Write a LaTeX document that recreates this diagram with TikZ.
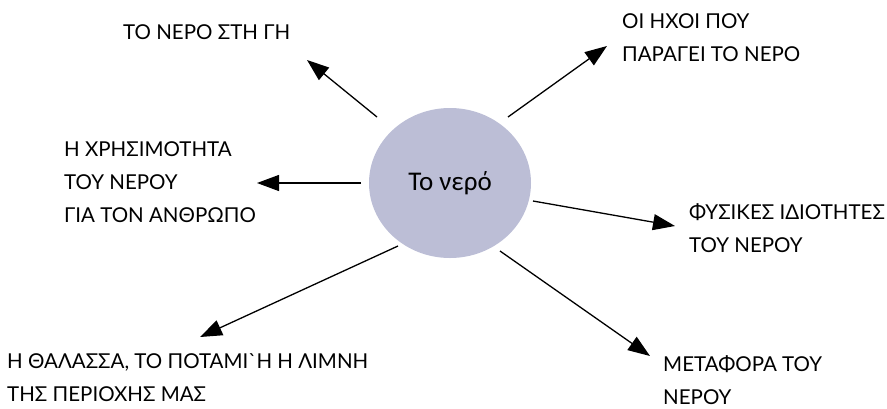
\documentclass[tikz,border=0pt]{standalone}
\usepackage{fontspec}
\setmainfont{Lato}[Ligatures=TeXOff]
\newfontfamily\waterFont{Carlito}
\usetikzlibrary{arrows.meta, shapes.geometric}
\tikzstyle{mindMap} = [x = 1pt, y = -1pt]
\definecolor{waterColor}{RGB}{188,190,214}
\tikzstyle{waterStyle} = [ellipse, fill=waterColor, minimum width=162pt, minimum height=150pt, inner sep=0, font=\waterFont\fontsize{27}{30}\selectfont]
\tikzstyle{topicText} = [anchor=north west, align=left, inner sep=0, font=\fontsize{20.5}{33}\selectfont]
\tikzstyle{topicArrow} = [-{Triangle[length=22pt, width=16pt]}, line width=1.3pt]
\newcommand{\topic}[3]{\node [topicText] (#1) at (#2) {#3};}
\newcommand{\topicArrow}[3]{\coordinate (#1From) at (#2); \coordinate (#1To) at (#3); \draw [topicArrow] (#1From) -- (#1To);}

\begin{document}
\begin{tikzpicture}[mindMap]
\useasboundingbox (0,0) rectangle (887,408);
\node [waterStyle] (water) at (450,183) {Το νερό};
% labels round the circle
\topic{earth}{123,24}{ΤΟ ΝΕΡΟ ΣΤΗ ΓΗ}
\topic{sounds}{622,13}{ΟΙ ΗΧΟΙ ΠΟΥ\\ΠΑΡΑΓΕΙ ΤΟ ΝΕΡΟ}
\topic{use}{64,141}{Η ΧΡΗΣΙΜΟΤΗΤΑ\\ΤΟΥ ΝΕΡΟΥ\\ΓΙΑ ΤΟΝ ΑΝΘΡΩΠΟ}
\topic{physics}{689,203}{ΦΥΣΙΚΕΣ ΙΔΙΟΤΗΤΕΣ\\ΤΟΥ ΝΕΡΟΥ}
\topic{sea}{7,353}{Η ΘΑΛΑΣΣΑ, ΤΟ ΠΟΤΑΜΙ`Η Η ΛΙΜΝΗ\\ΤΗΣ ΠΕΡΙΟΧΗΣ ΜΑΣ}
\topic{transport}{663,355}{ΜΕΤΑΦΟΡΑ ΤΟΥ\\ΝΕΡΟΥ}
% arrows
\topicArrow{earth}{377,117}{307,60}
\topicArrow{sounds}{508,117}{607,46}
\topicArrow{use}{361,183}{257,183}
\topicArrow{physics}{533,201}{675,226}
\topicArrow{transport}{500,251}{650,356}
\topicArrow{sea}{398,246}{200,337}
\end{tikzpicture}
\end{document}
